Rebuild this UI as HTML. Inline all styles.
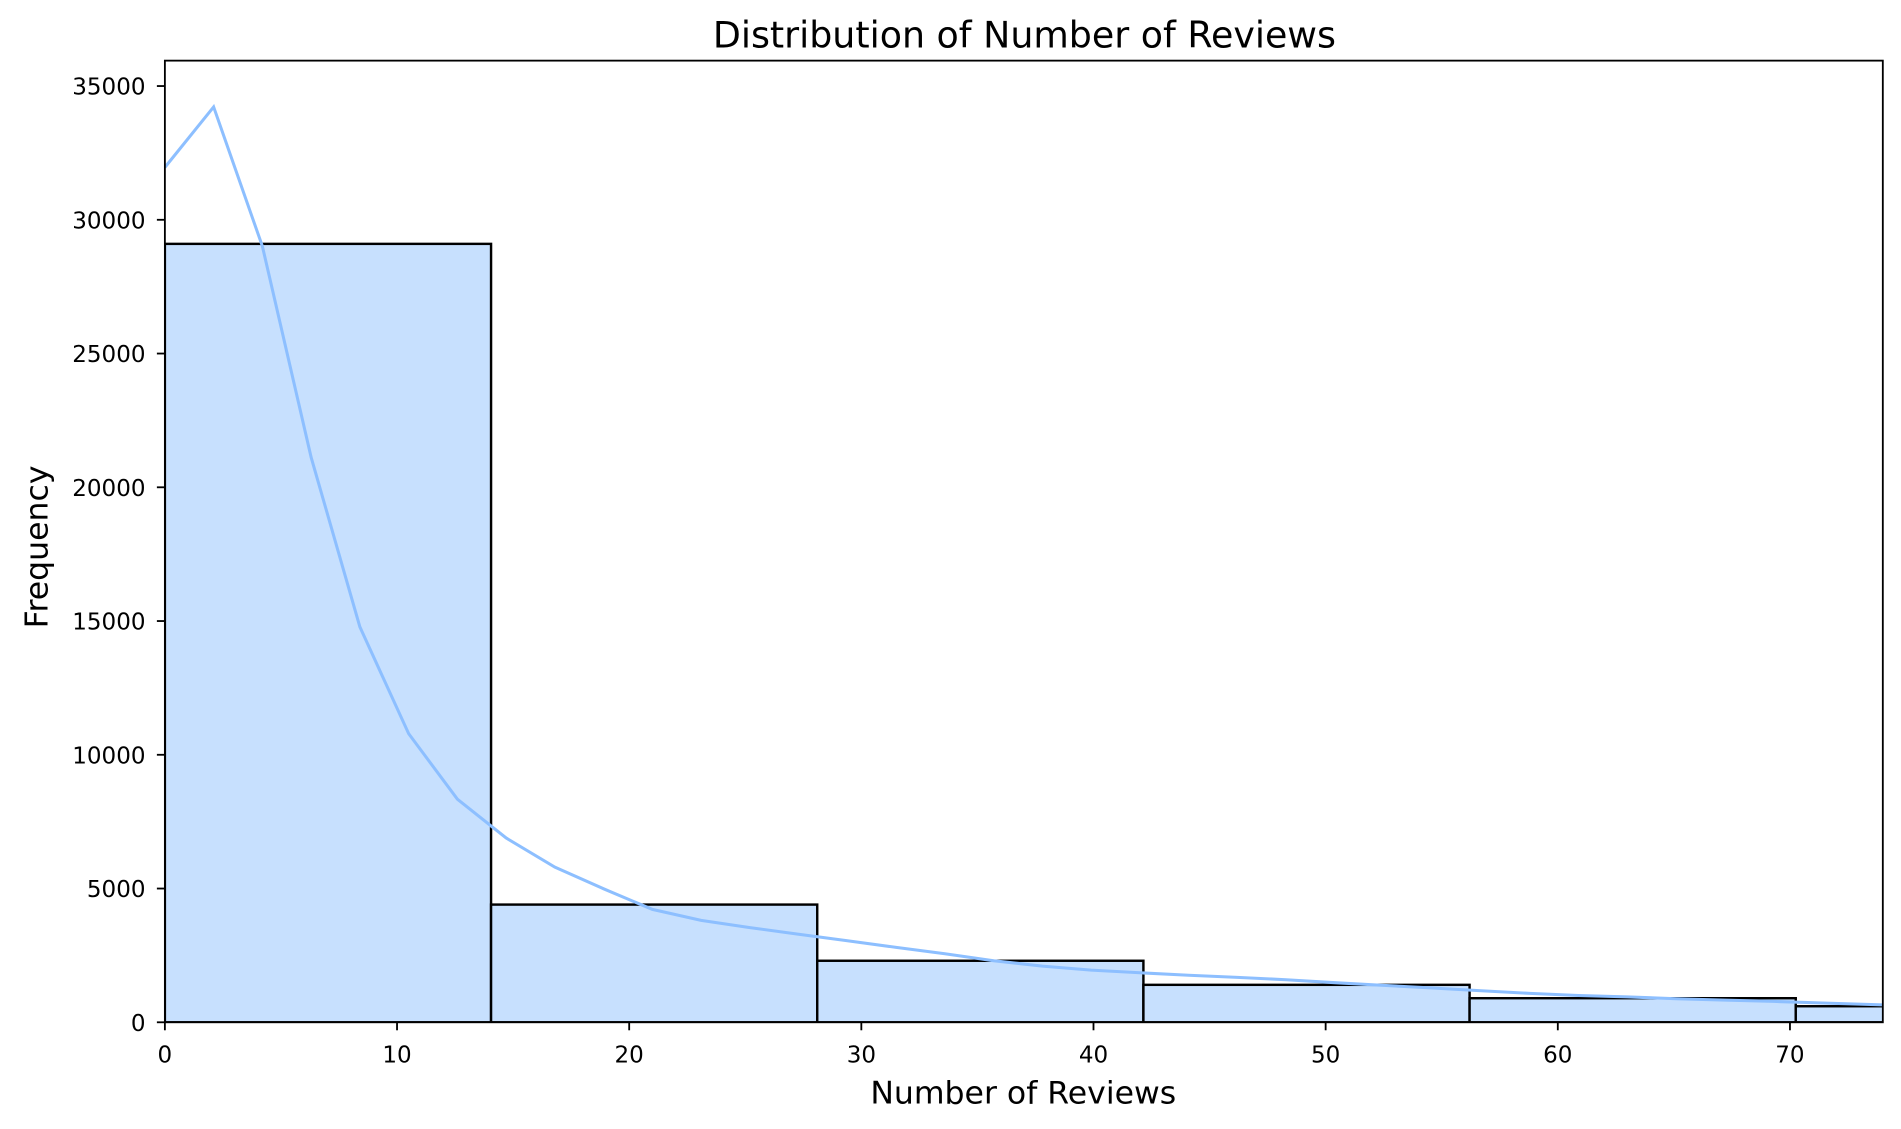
<!DOCTYPE html>
<html><head><meta charset="utf-8"><style>
html,body{margin:0;padding:0;background:#fff;}
svg{display:block;font-family:"DejaVu Sans","Liberation Sans",sans-serif;}
</style></head><body>
<svg id="chart" width="1901" height="1129" viewBox="0 0 1568 931" preserveAspectRatio="none" xmlns="http://www.w3.org/2000/svg">
<rect width="1568" height="931" fill="#fff"/>
<text x="845" y="39" font-size="30" text-anchor="middle" fill="#000">Distribution of Number of Reviews</text>
<g id="bars"></g>
<g id="kde"></g>
<g id="axes"></g>
<text x="844" y="910" font-size="26" text-anchor="middle" fill="#000">Number of Reviews</text>
<text x="39" y="451" font-size="26" text-anchor="middle" fill="#000" transform="rotate(-90 39 451)">Frequency</text>
</svg>
<script>
const binEdges=[0,14.05,28.1,42.15,56.2,70.25,84.3];
const binCounts=[29100,4400,2300,1400,900,600];
const kdeX=[0,2.1,4.2,6.3,8.4,10.5,12.6,14.7,16.8,18.9,21,23.1,25.2,27.3,29.4,31.5,33.6,35.7,37.8,39.9,42,44.1,46.2,48.3,50.4,52.5,54.6,56.7,58.8,60.9,63,65.1,67.2,69.3,71.4,74];
const kdeY=[31960,34220,29010,21120,14780,10790,8340,6890,5800,4990,4220,3810,3540,3290,3050,2800,2560,2300,2100,1950,1850,1760,1680,1590,1480,1380,1280,1180,1080,1000,950,880,830,780,720,650];
const xTicks=[0,10,20,30,40,50,60,70];
const yTicks=[0,5000,10000,15000,20000,25000,30000,35000];
const L=136,R=1553,T=50,B=843,xMax=74,yMax=35950;
const sx=v=>L+v/xMax*(R-L), sy=v=>B-v/yMax*(B-T);
const NS="http://www.w3.org/2000/svg";
function mk(tag,attrs,parent){const e=document.createElementNS(NS,tag);for(const k in attrs)e.setAttribute(k,attrs[k]);parent.appendChild(e);return e;}
const bars=document.getElementById('bars');
const clip=mk('clipPath',{id:'clipA'},document.getElementById('chart'));
mk('rect',{x:L,y:T,width:R-L,height:B-T},clip);
bars.setAttribute('clip-path','url(#clipA)');
binCounts.forEach((c,i)=>{
  const x0=sx(binEdges[i]),x1=sx(binEdges[i+1]);
  const r=mk('rect',{x:x0,y:sy(c),width:x1-x0,height:B-sy(c),fill:'#c7e0fe',stroke:'#000','stroke-width':2},bars);
  
  
});
const kde=document.getElementById('kde');
kde.setAttribute('clip-path','url(#clipA)');
const p=mk('polyline',{points:kdeX.map((x,i)=>sx(x)+','+sy(kdeY[i])).join(' '),fill:'none',stroke:'#8dbfff','stroke-width':2.5},kde);


const ax=document.getElementById('axes');
const fr=mk('rect',{x:L,y:T,width:R-L,height:B-T,fill:'none',stroke:'#000','stroke-width':1.5},ax);


xTicks.forEach(t=>{
  const x=sx(t);
  mk('line',{x1:x,x2:x,y1:B,y2:B+6.6,stroke:'#000','stroke-width':1.5},ax);
  const tx=mk('text',{x:x,y:B+33,'font-size':19,'text-anchor':'middle'},ax);
  tx.textContent=t;
  
  
});
yTicks.forEach(t=>{
  const y=sy(t);
  mk('line',{x1:L-6.6,x2:L,y1:y,y2:y,stroke:'#000','stroke-width':1.5},ax);
  const tx=mk('text',{x:L-16,y:y+7,'font-size':19,'text-anchor':'end'},ax);
  tx.textContent=t;
  
  
});
</script>
</body></html>
